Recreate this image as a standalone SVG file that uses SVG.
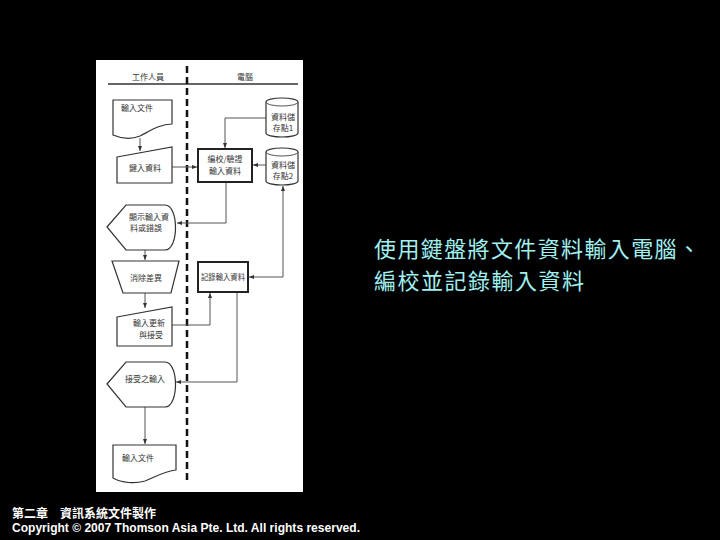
<svg xmlns="http://www.w3.org/2000/svg" width="720" height="540" viewBox="0 0 720 540">
<style>
.shp{fill:#fff;stroke:#333;stroke-width:1.2}
.proc{fill:#fff;stroke:#222;stroke-width:2}
.ln{fill:none;stroke:#555;stroke-width:1}
.t{font-family:"Noto Sans CJK TC","Noto Sans CJK SC",sans-serif;font-size:8px;fill:#333}
.tc{text-anchor:middle}
</style>
<defs>
<marker id="ah" viewBox="0 0 10 10" refX="10" refY="5" markerWidth="5" markerHeight="5" orient="auto" markerUnits="userSpaceOnUse">
<path d="M0,1 L10,5 L0,9 Z" fill="#333"/>
</marker>
</defs>
<rect width="720" height="540" fill="#000"/>
<rect x="96" y="60" width="207" height="432" fill="#fff"/>
<g id="header">
<line x1="108" y1="84" x2="298" y2="84" stroke="#333" stroke-width="1.5"/>
<line x1="187" y1="66" x2="187" y2="484" stroke="#111" stroke-width="2.5" stroke-dasharray="7,4"/>
<text class="t tc" x="148" y="80">工作人員</text>
<text class="t tc" x="245" y="80">電腦</text>
</g>
<g id="connectors">
<line class="ln" x1="140" y1="138" x2="140" y2="151" marker-end="url(#ah)"/>
<line class="ln" x1="172" y1="167" x2="197" y2="167" marker-end="url(#ah)"/>
<polyline class="ln" points="266,118 225,118 225,148" marker-end="url(#ah)"/>
<line class="ln" x1="266" y1="165" x2="253" y2="165" marker-end="url(#ah)"/>
<polyline class="ln" points="226,182 226,223 177,223" marker-end="url(#ah)"/>
<line class="ln" x1="145" y1="250" x2="145" y2="260" marker-end="url(#ah)"/>
<line class="ln" x1="145" y1="293" x2="145" y2="308" marker-end="url(#ah)"/>
<polyline class="ln" points="172,325 210,325 210,293" marker-end="url(#ah)"/>
<line class="ln" x1="283" y1="277" x2="249" y2="277" marker-end="url(#ah)"/>
<line class="ln" x1="283" y1="277" x2="283" y2="186" marker-end="url(#ah)"/>
<polyline class="ln" points="237,292 237,382 176,382" marker-end="url(#ah)"/>
<line class="ln" x1="145" y1="407" x2="145" y2="444" marker-end="url(#ah)"/>
</g>
<g id="doc1">
<path class="shp" d="M113,100 H172 V124 C160,124 150,131 140,136 C130,140 120,138 113,135 Z"/>
<text class="t" x="121" y="111">輸入文件</text>
</g>
<g id="input1">
<path class="shp" d="M117,157 L172,147 V183 H117 Z"/>
<text class="t tc" x="145" y="171">鍵入資料</text>
</g>
<g id="edit">
<rect class="proc" x="198" y="149" width="54" height="33"/>
<text class="t tc" x="225" y="162">編校/驗證</text>
<text class="t tc" x="225" y="174">輸入資料</text>
</g>
<g id="store1">
<path class="shp" d="M266,102 A16,4 0 0 1 298,102 V133 A16,4 0 0 1 266,133 Z"/>
<path class="ln" d="M266,102 A16,4 0 0 0 298,102" stroke="#333"/>
<text class="t tc" x="283" y="120">資料儲</text>
<text class="t tc" x="283" y="131">存點1</text>
</g>
<g id="store2">
<path class="shp" d="M266,152 A16,4 0 0 1 298,152 V181 A16,4 0 0 1 266,181 Z"/>
<path class="ln" d="M266,152 A16,4 0 0 0 298,152" stroke="#333"/>
<text class="t tc" x="283" y="168">資料儲</text>
<text class="t tc" x="283" y="179">存點2</text>
</g>
<g id="display1">
<path class="shp" d="M107,227 L126,205 H165 C179,205 179,250 165,250 H126 Z"/>
<text class="t tc" x="149" y="220">顯示輸入資</text>
<text class="t tc" x="146" y="231">料或錯誤</text>
</g>
<g id="manual">
<path class="shp" d="M112,261 H179 L171,293 H123 Z"/>
<text class="t tc" x="146" y="281">消除差異</text>
</g>
<g id="input2">
<path class="shp" d="M117,317 L172,307 V346 H117 Z"/>
<text class="t" x="133" y="326">輸入更新</text>
<text class="t" x="139" y="338">與接受</text>
</g>
<g id="record">
<rect class="proc" x="198" y="262" width="50" height="30"/>
<text class="t" x="201" y="280" textLength="44" lengthAdjust="spacingAndGlyphs">記錄輸入資料</text>
</g>
<g id="display2">
<path class="shp" d="M107,384 L126,362 H165 C179,362 179,407 165,407 H126 Z"/>
<text class="t tc" x="145" y="382">接受之輸入</text>
</g>
<g id="doc2">
<path class="shp" d="M113,445 H176 V470 C165,471 155,477 145,481 C135,484 122,483 113,478 Z"/>
<text class="t" x="122" y="461">輸入文件</text>
</g>
<g id="caption" font-family="'Noto Sans CJK TC','Noto Sans CJK SC',sans-serif" font-size="22" fill="#a0f0f0">
<text x="374" y="257" textLength="326">使用鍵盤將文件資料輸入電腦、</text>
<text x="374" y="289" textLength="210">編校並記錄輸入資料</text>
</g>
<g id="footer" fill="#fff" font-weight="bold">
<text x="12" y="518" font-family="'Noto Sans CJK TC','Noto Sans CJK SC',sans-serif" font-size="12">第二章　資訊系統文件製作</text>
<text x="12" y="532" font-family="'Liberation Sans',Arial,sans-serif" font-size="12" textLength="348">Copyright © 2007 Thomson Asia Pte. Ltd. All rights reserved.</text>
</g>
</svg>
